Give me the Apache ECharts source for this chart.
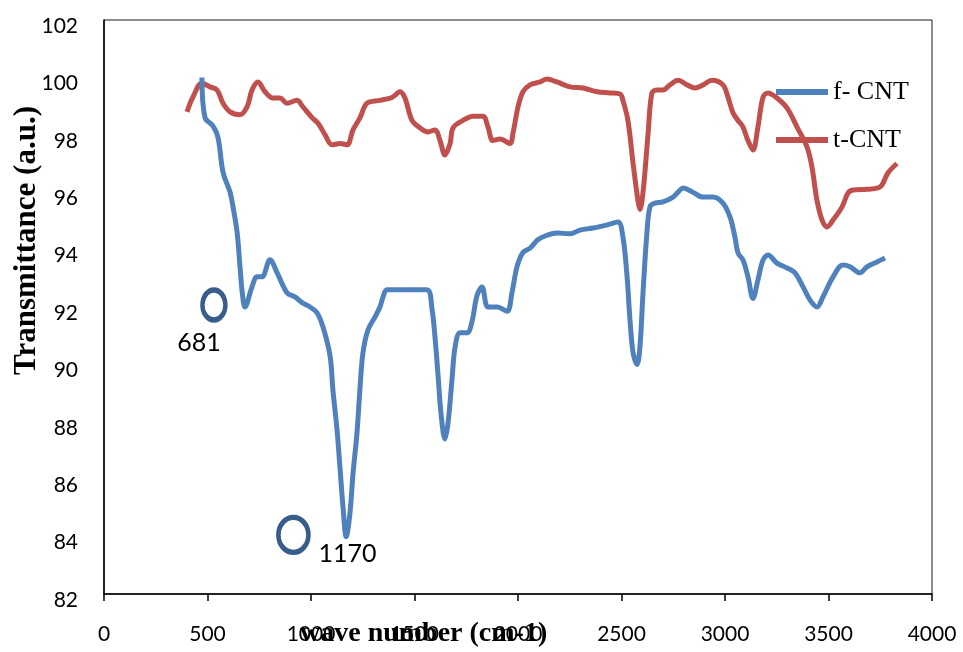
<!DOCTYPE html>
<html>
<head>
<meta charset="utf-8">
<title>FTIR transmittance of f-CNT and t-CNT</title>
<script src="https://cdn.jsdelivr.net/npm/echarts@6/dist/echarts.min.js"></script>
<style>
  html, body { margin: 0; padding: 0; background: #ffffff; }
  #chart { width: 963px; height: 652px; }
</style>
</head>
<body>
<div id="chart"></div>
<script>
// f-CNT spectrum: wave number (cm-1) and transmittance (a.u.)
const fCntWave = [473, 488, 527, 551, 575, 609, 623, 643, 657, 668, 681, 715, 739, 763, 802, 836, 884, 923, 957, 995,
  1029, 1058, 1092, 1106, 1126, 1140, 1155, 1170, 1188, 1203, 1222, 1237, 1251, 1275, 1309, 1333, 1348, 1367, 1460, 1560,
  1585, 1599, 1614, 1628, 1647, 1662, 1681, 1696, 1720, 1754, 1778, 1802, 1826, 1855, 1899, 1947, 1971, 1995, 2024, 2058,
  2097, 2140, 2188, 2251, 2300, 2362, 2430, 2483, 2507, 2527, 2541, 2556, 2575, 2589, 2604, 2623, 2638, 2662, 2700, 2749,
  2773, 2797, 2845, 2894, 2942, 2990, 3024, 3048, 3063, 3087, 3111, 3135, 3159, 3184, 3208, 3251, 3300, 3338, 3377, 3411,
  3444, 3473, 3522, 3570, 3604, 3652, 3686, 3734, 3773];
const fCntTrans = [100.0, 98.6, 98.3, 97.9, 96.7, 96.0, 95.5, 94.6, 93.4, 92.5, 92.0, 92.7, 93.05, 93.05, 93.65, 93.2, 92.5, 92.35, 92.15, 92.0,
  91.8, 91.3, 90.3, 89.1, 87.7, 86.4, 85.0, 84.0, 84.8, 86.2, 87.6, 89.2, 90.4, 91.2, 91.65, 92.0, 92.35, 92.6, 92.6, 92.6,
  91.9, 90.95, 89.6, 88.3, 87.4, 87.96, 89.46, 90.6, 91.1, 91.1, 91.5, 92.4, 92.7, 92.0, 92.0, 91.85, 92.5, 93.4, 93.9, 94.05,
  94.35, 94.5, 94.58, 94.55, 94.68, 94.75, 94.86, 94.96, 94.44, 93.05, 91.55, 90.4, 90.0, 90.6, 92.5, 94.6, 95.5, 95.62, 95.66, 95.83,
  96.0, 96.15, 96.0, 95.83, 95.83, 95.62, 95.14, 94.44, 93.88, 93.64, 93.05, 92.3, 92.94, 93.64, 93.81, 93.53, 93.36, 93.19, 92.7, 92.24,
  92.0, 92.35, 93.05, 93.46, 93.4, 93.19, 93.4, 93.57, 93.71];

// t-CNT spectrum
const tCntWave = [401, 430, 473, 512, 546, 575, 609, 657, 691, 715, 744, 778, 816, 850, 884, 932, 961, 1005, 1034, 1068,
  1101, 1140, 1174, 1203, 1237, 1271, 1333, 1391, 1430, 1454, 1488, 1527, 1565, 1599, 1623, 1647, 1672, 1686, 1734, 1783,
  1831, 1855, 1879, 1913, 1961, 1976, 2000, 2024, 2058, 2106, 2140, 2188, 2251, 2314, 2382, 2444, 2493, 2507, 2531, 2556,
  2580, 2589, 2604, 2628, 2647, 2672, 2700, 2734, 2773, 2817, 2855, 2894, 2937, 2990, 3014, 3039, 3063, 3087, 3111, 3135,
  3159, 3184, 3208, 3251, 3300, 3348, 3396, 3420, 3444, 3469, 3493, 3522, 3565, 3594, 3618, 3686, 3739, 3758, 3787, 3831];
const tCntTrans = [98.8, 99.32, 99.8, 99.67, 99.56, 99.1, 98.8, 98.7, 98.97, 99.56, 99.84, 99.5, 99.28, 99.28, 99.1, 99.2, 98.97, 98.6, 98.4, 98.0,
  97.65, 97.7, 97.65, 98.17, 98.6, 99.1, 99.2, 99.3, 99.5, 99.28, 98.5, 98.24, 98.1, 98.17, 97.8, 97.3, 97.7, 98.24, 98.5, 98.65,
  98.65, 98.27, 97.8, 97.85, 97.7, 98.06, 98.97, 99.5, 99.74, 99.84, 99.94, 99.84, 99.67, 99.63, 99.5, 99.46, 99.42, 99.2, 98.5, 97.0,
  95.68, 95.4, 96.0, 98.0, 99.46, 99.56, 99.56, 99.74, 99.9, 99.74, 99.63, 99.74, 99.9, 99.74, 99.32, 98.76, 98.5, 98.27, 97.8, 97.47,
  98.27, 99.32, 99.46, 99.28, 98.93, 98.27, 97.58, 96.88, 95.73, 95.03, 94.79, 95.03, 95.48, 95.97, 96.08, 96.1, 96.15, 96.25, 96.67, 97.0];

// Peak markers (ring positions in data space) and their band labels
const markerWave = [531, 915];
const markerTrans = [92.07, 84.06];
const markerLabels = ['681', '1170'];

const xTicks = { min: 0, max: 4000, step: 500 };
const yTicks = { min: 82, max: 102, step: 2 };

const zip = (xs, ys) => xs.map((x, i) => [x, ys[i]]);

const tickFont = 'Lato, "Noto Sans", sans-serif';
const serif = '"Liberation Serif", "DejaVu Serif", serif';

const chart = echarts.init(document.getElementById('chart'), null, { renderer: 'canvas' });

chart.setOption({
  backgroundColor: '#ffffff',
  animation: false,
  grid: {
    left: 104, right: 31, top: 20, bottom: 58,
    show: true, borderColor: '#1a1a1a', borderWidth: 1, backgroundColor: 'transparent'
  },
  legend: {
    data: ['f- CNT', 't-CNT'],
    orient: 'vertical',
    left: 771, top: 73,
    icon: 'rect',
    itemWidth: 52, itemHeight: 6,
    itemGap: 20,
    textStyle: { fontFamily: serif, fontSize: 26, color: '#000', lineHeight: 28 }
  },
  xAxis: {
    type: 'value',
    min: xTicks.min, max: xTicks.max, interval: xTicks.step,
    axisLine: { show: true, onZero: false, lineStyle: { color: '#000', width: 1.5 } },
    axisTick: { show: true, inside: false, length: 7, lineStyle: { color: '#000', width: 1.5 } },
    axisLabel: {
      margin: 30, fontFamily: tickFont, fontSize: 21, color: '#000',
      formatter: (v) => String(v)
    },
    splitLine: { show: false }
  },
  yAxis: {
    type: 'value',
    min: yTicks.min, max: yTicks.max, interval: yTicks.step,
    axisLine: { show: true, onZero: false, lineStyle: { color: '#000', width: 1.5 } },
    axisTick: { show: false },
    axisLabel: {
      margin: 26, fontFamily: tickFont, fontSize: 21, color: '#000',
      verticalAlign: 'top', lineHeight: 12,
      formatter: (v) => String(v)
    },
    splitLine: { show: false }
  },
  graphic: [
    {
      type: 'text',
      left: 11, top: 106,
      rotation: Math.PI / 2,
      style: {
        text: 'Transmittance (a.u.)',
        font: 'bold 31px ' + serif,
        fill: '#000'
      }
    },
    {
      type: 'text',
      left: 300, top: 620,
      style: {
        text: 'wave number (cm-1)',
        font: 'bold 28px ' + serif,
        fill: '#000'
      }
    }
  ],
  series: [
    {
      name: 'f- CNT',
      type: 'line',
      data: zip(fCntWave, fCntTrans),
      smooth: 0.35,
      showSymbol: false,
      lineStyle: { color: '#4f81bd', width: 5 },
      itemStyle: { color: '#4f81bd' },
      z: 3
    },
    {
      name: 't-CNT',
      type: 'line',
      data: zip(tCntWave, tCntTrans),
      smooth: 0.35,
      showSymbol: false,
      lineStyle: { color: '#c0504d', width: 5 },
      itemStyle: { color: '#c0504d' },
      z: 2
    },
    {
      name: 'markers',
      type: 'scatter',
      data: zip(markerWave, markerTrans).map((p, i) => ({
        value: p,
        symbolSize: i === 0 ? [23, 30] : [30, 35],
        label: {
          show: true,
          formatter: markerLabels[i],
          position: 'inside',
          offset: i === 0 ? [-15, 38] : [54, 19],
          fontFamily: tickFont, fontSize: 25, color: '#000'
        }
      })),
      symbol: 'circle',
      itemStyle: { color: 'rgba(255,255,255,0)', borderColor: '#385d8a', borderWidth: 5, opacity: 1 },
      emphasis: { disabled: true },
      silent: true,
      z: 4
    }
  ]
});
</script>
</body>
</html>
